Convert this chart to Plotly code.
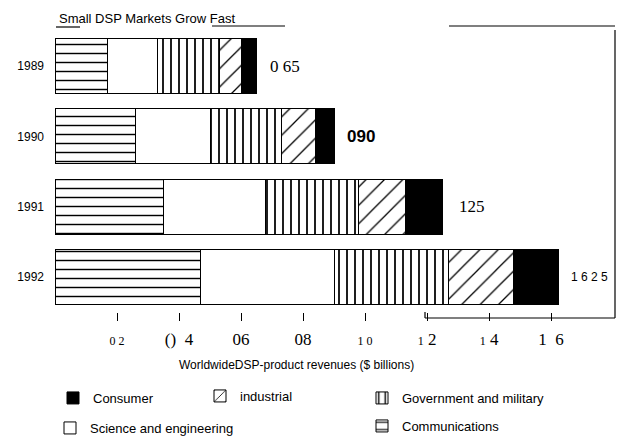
import plotly.graph_objects as go

# Data ($ billions)
years = ["1989", "1990", "1991", "1992"]
communications = [0.17, 0.26, 0.35, 0.47]
science = [0.16, 0.24, 0.33, 0.43]
government = [0.20, 0.23, 0.30, 0.37]
industrial = [0.07, 0.11, 0.15, 0.21]
consumer = [0.05, 0.06, 0.12, 0.145]
totals = [0.65, 0.90, 1.25, 1.625]
total_labels = ["0 65", "090", "125", "1 6 2 5"]

tick_vals = [0.2, 0.4, 0.6, 0.8, 1.0, 1.2, 1.4, 1.6]
tick_text = ['<span style="font-size:12px">0 2</span>', "()  4", "06", "08",
             '<span style="font-size:12px">1 0</span>',
             '<span style="font-size:12px">1</span> 2',
             '<span style="font-size:12px">1</span> 4', "1  6"]

# page has an 8px body margin, so the figure sits at (8, 8)
OFF = 8
W, H = 609, 433
L, R, T, B = 47, 4, 23, 129
PW, PH = W - L - R, H - T - B


def px_x(x):
    # page pixel -> paper fraction
    return (x - OFF - L) / PW


def px_y(y):
    return (H - B - (y - OFF)) / PH


series = [
    ("Communications", communications, dict(shape="-", size=9, solidity=0.16), "legend5"),
    ("Science and engineering", science, dict(shape=""), "legend4"),
    ("Government and military", government, dict(shape="|", size=8, solidity=0.22), "legend3"),
    ("industrial", industrial, dict(shape="/", size=13, solidity=0.1), "legend2"),
    ("Consumer", consumer, None, "legend"),
]

fig = go.Figure()
for name, vals, pat, leg in series:
    if pat is None:
        marker = dict(color="black", line=dict(color="black", width=1))
    else:
        pattern = dict(pat, fgcolor="black", bgcolor="white", fillmode="replace")
        marker = dict(color="white", pattern=pattern, line=dict(color="black", width=1))
    fig.add_trace(go.Bar(y=years, x=vals, name=name, orientation="h",
                         marker=marker, legend=leg, hoverinfo="x+name"))

# total labels at the end of each bar (y given as category index)
label_fonts = [
    dict(family="Liberation Serif", size=17, color="black"),
    dict(family="Liberation Sans", size=17, color="black", weight="bold"),
    dict(family="Liberation Serif", size=17, color="black"),
    dict(family="Liberation Sans", size=12, color="black"),
]
shifts = [11, 11, 14, 10]
for i, (tot, txt, fnt, sh) in enumerate(zip(totals, total_labels, label_fonts, shifts)):
    fig.add_annotation(x=tot, y=i, text=txt, showarrow=False, xanchor="left",
                       xshift=sh, font=fnt)

fig.add_annotation(x=px_x(57), y=px_y(18), xref="paper", yref="paper",
                   text="Small DSP Markets Grow Fast", showarrow=False,
                   xanchor="left", yanchor="middle",
                   font=dict(family="Liberation Sans", size=13, color="black"))
fig.add_annotation(x=px_x(296), y=px_y(365), xref="paper", yref="paper",
                   text="WorldwideDSP-product revenues ($ billions)", showarrow=False,
                   xanchor="center", yanchor="middle",
                   font=dict(family="Liberation Sans", size=12, color="black"))

# broken frame lines of the scan
line = dict(color="black", width=1.2)
for x0, y0, x1, y1 in [(56, 27, 80, 27), (212, 26, 285, 26), (449, 26, 615, 26),
                       (615, 30, 615, 318), (425, 318, 615, 318), (425, 312, 425, 318)]:
    fig.add_shape(type="line", xref="paper", yref="paper",
                  x0=px_x(x0), y0=px_y(y0), x1=px_x(x1), y1=px_y(y1), line=line)

legend_font = dict(family="Liberation Sans", size=13, color="black")
legend_pos = {"legend": (53, 398), "legend2": (200, 396), "legend3": (362, 398),
              "legend4": (50, 428), "legend5": (362, 426)}
legends = {}
for k, (lx, ly) in legend_pos.items():
    legends[k] = dict(x=px_x(lx), y=px_y(ly), xanchor="left", yanchor="middle",
                      font=legend_font, bgcolor="rgba(0,0,0,0)", borderwidth=0)

fig.update_layout(
    width=W, height=H,
    margin=dict(l=L, r=R, t=T, b=B, autoexpand=False),
    barmode="stack", bargap=0.22,
    plot_bgcolor="white", paper_bgcolor="white",
    showlegend=True,
    **legends,
)
fig.update_xaxes(range=[0, PW / 310], tickvals=tick_vals, ticktext=tick_text,
                 showgrid=False, zeroline=False, showline=False,
                 ticks="outside", ticklen=8, tickcolor="black",
                 ticklabelstandoff=4,
                 tickfont=dict(family="Liberation Serif", size=17, color="black"))
fig.update_yaxes(type="category", categoryorder="array", categoryarray=years,
                 range=[3.5, -0.5],
                 showgrid=False, zeroline=False, showline=False, ticks="",
                 ticklabelstandoff=10,
                 tickfont=dict(family="Liberation Sans", size=12, color="black"))

fig.write_html("out.html")
